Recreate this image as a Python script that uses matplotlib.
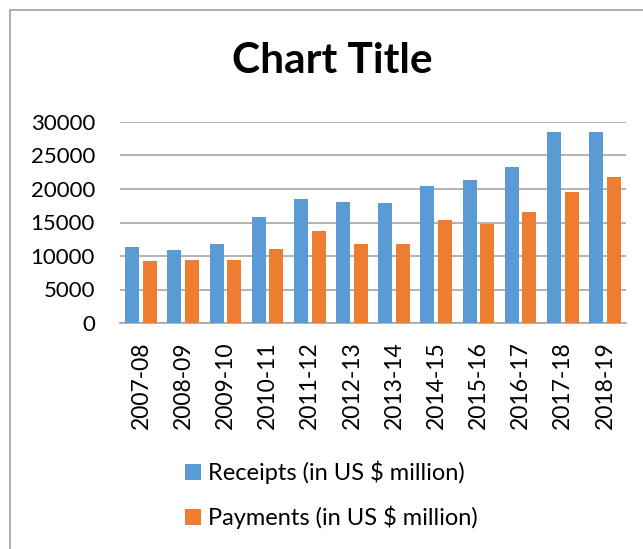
import matplotlib
matplotlib.use("Agg")
import numpy as np
import matplotlib.pyplot as plt
from matplotlib.patches import Rectangle

years = ['2007-08', '2008-09', '2009-10', '2010-11', '2011-12', '2012-13',
         '2013-14', '2014-15', '2015-16', '2016-17', '2017-18', '2018-19']
receipts = [11400, 10900, 11850, 15840, 18530, 18030,
            17950, 20400, 21400, 23300, 28450, 28550]
payments = [9300, 9460, 9360, 11060, 13750, 11850,
            11800, 15400, 14850, 16500, 19580, 21760]

plt.rcParams['font.family'] = ['Lato', 'DejaVu Sans']

fig = plt.figure(figsize=(6.43, 5.49), dpi=100)
# chart border (runs off the right and bottom edges)
fig.patches.append(Rectangle((10 / 643, -0.1), 1.2, 1 - 10 / 549 + 0.1,
                             transform=fig.transFigure, fill=False,
                             edgecolor='#A0A0A0', linewidth=1.2))

ax = fig.add_axes([120 / 643, 1 - 323 / 549, 506 / 643, 201 / 549])
x = np.arange(len(years))
w = 0.33
ax.bar(x - 0.21, receipts, w, color='#5B9BD5', label='Receipts (in US $ million)', zorder=3)
ax.bar(x + 0.21, payments, w, color='#ED7D31', label='Payments (in US $ million)', zorder=3)

ax.set_xlim(-0.5, len(years) - 0.5)
ax.set_ylim(0, 30000)
ax.set_yticks(range(0, 30001, 5000))
ax.set_xticks(x)
ax.set_xticklabels(years, rotation=90, fontsize=16.5)
ax.tick_params(axis='y', labelsize=16, length=0, pad=18)
ax.tick_params(axis='x', length=0, pad=13)
ax.grid(axis='y', color='#A6A6A6', linewidth=1.2, zorder=0)
for s in ['top', 'right', 'left']:
    ax.spines[s].set_visible(False)
ax.spines['bottom'].set_color('#A6A6A6')
ax.spines['bottom'].set_linewidth(1.2)

fig.text(332 / 643, 1 - 61 / 549, 'Chart Title', ha='center', va='center',
         fontsize=30.5, fontweight='bold')

fig.legend(loc='center left', bbox_to_anchor=(185 / 643, 1 - 495 / 549),
           frameon=False, fontsize=17, handlelength=0.68, handleheight=0.68,
           handletextpad=0.3, labelspacing=0.92, borderpad=0, borderaxespad=0)

fig.savefig('out.png', dpi=100)
